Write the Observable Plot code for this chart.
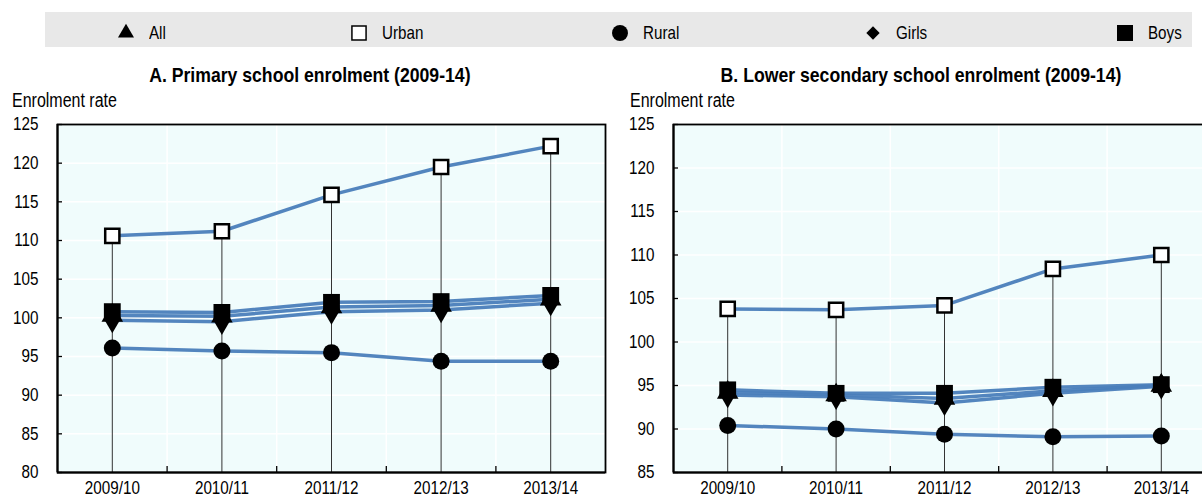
<!DOCTYPE html>
<html>
<head>
<meta charset="utf-8">
<script src="https://cdn.jsdelivr.net/npm/d3@7"></script>
<script src="https://cdn.jsdelivr.net/npm/@observablehq/plot@0.6"></script>
<style>
  html, body { margin: 0; padding: 0; }
  body { width: 1202px; height: 496px; overflow: hidden; background: #fff; position: relative;
         font-family: "Liberation Sans", Arial, sans-serif; color: #000; }
  .abs { position: absolute; }
  .nar { display: inline-block; transform: scaleX(0.82); white-space: nowrap; }
  #legend { left: 45px; top: 12px; width: 1147px; height: 35px; background: #e8e8e8; }
  .item { position: absolute; top: 3px; height: 35px; display: flex; align-items: center; font-size: 18.5px; }
  .item svg { margin-right: 14px; overflow: visible; }
  .item .nar { transform-origin: left center; }
  .title { font-weight: bold; font-size: 20.5px; text-align: center; top: 63px; }
  .title .nar { transform-origin: center center; transform: scaleX(0.86); }
  .ylab { font-size: 19.5px; top: 88.5px; }
  .ylab .nar { transform-origin: left center; }
  .panel { top: 110px; width: 612px; height: 400px; }
  .panel svg { max-width: none !important; }
</style>
</head>
<body>
<div id="legend" class="abs"></div>
<div class="abs title" style="left:0;width:620px"><span class="nar">A. Primary school enrolment (2009-14)</span></div>
<div class="abs title" style="left:620px;width:602px"><span class="nar">B. Lower secondary school enrolment (2009-14)</span></div>
<div class="abs ylab" style="left:12px"><span class="nar">Enrolment rate</span></div>
<div class="abs ylab" style="left:630px"><span class="nar">Enrolment rate</span></div>
<div id="pA" class="abs panel" style="left:0"></div>
<div id="pB" class="abs panel" style="left:612px"></div>
<script>
// ---- data ----
const years = ["2009/10", "2010/11", "2011/12", "2012/13", "2013/14"];
const seriesNames = ["All", "Urban", "Rural", "Girls", "Boys"];

const primaryAll   = [100.3, 100.2, 101.4, 101.6, 102.4];
const primaryUrban = [110.6, 111.2, 115.9, 119.5, 122.2];
const primaryRural = [96.1, 95.7, 95.5, 94.4, 94.4];
const primaryGirls = [99.7, 99.5, 100.8, 101.0, 101.9];
const primaryBoys  = [100.8, 100.7, 102.0, 102.1, 102.9];

const lowerAll   = [94.2, 93.9, 93.5, 94.4, 95.0];
const lowerUrban = [103.8, 103.7, 104.2, 108.4, 110.0];
const lowerRural = [90.4, 90.0, 89.4, 89.1, 89.2];
const lowerGirls = [93.9, 93.7, 93.0, 94.1, 94.9];
const lowerBoys  = [94.5, 94.1, 94.1, 94.8, 95.1];

const yTicksA = [80, 85, 90, 95, 100, 105, 110, 115, 120, 125];
const yTicksB = [85, 90, 95, 100, 105, 110, 115, 120, 125];

// ---- styles ----
const FONT = '"Liberation Sans", Arial, sans-serif';
const NARROW = 0.82;
const LINE = "#4a7ebb";
const markerStyle = {
  All:   {symbol: "triangle", fill: "#000", stroke: "none", r: 8},
  Urban: {symbol: "square",   fill: "#fff", stroke: "#000", r: 8, strokeWidth: 2.5},
  Rural: {symbol: "circle",   fill: "#000", stroke: "none", r: 8.5},
  Girls: {symbol: "diamond",  fill: "#000", stroke: "none", r: 8},
  Boys:  {symbol: "square",   fill: "#000", stroke: "none", r: 9.5}
};

// ---- legend ----
const legendPos = [81, 314, 575, 828, 1080];
const legendSize = {All: 111, Urban: 200, Rural: 200, Girls: 113, Boys: 256};
const legend = document.getElementById("legend");
const symMap = {triangle: d3.symbolTriangle, square: d3.symbolSquare, circle: d3.symbolCircle, diamond: d3.symbolDiamond2};
seriesNames.forEach((s, k) => {
  const st = markerStyle[s];
  const div = document.createElement("div");
  div.className = "item";
  div.style.left = (legendPos[k] - 9) + "px";
  const svg = d3.create("svg").attr("width", 18).attr("height", 18).attr("viewBox", "-9 -9 18 18");
  svg.append("path")
    .attr("d", d3.symbol(symMap[st.symbol], legendSize[s])())
    .attr("fill", st.fill)
    .attr("stroke", s === "Urban" ? "#000" : "none")
    .attr("stroke-width", 1.5);
  div.appendChild(svg.node());
  const span = document.createElement("span");
  span.className = "nar";
  span.textContent = s;
  div.appendChild(span);
  legend.appendChild(div);
});

// ---- panels ----
function panel(vals, yDomain, yTicks, width, mL, mR) {
  const data = seriesNames.flatMap((s, si) => vals[si].map((v, i) => ({series: s, i, v})));
  const tops = years.map((_, i) => ({i, v: d3.max(vals, a => a[i])}));
  const bounds = d3.range(1, years.length).map(k => k - 0.5);
  const idx = years.map((_, i) => i);
  const marks = [
    Plot.frame({fill: "#f0fcfc", stroke: null}),
    Plot.gridY(yTicks, {stroke: "#fff", strokeOpacity: 1, strokeWidth: 1.5}),
    Plot.gridX(bounds, {stroke: "#fff", strokeOpacity: 1, strokeWidth: 1.5}),
    Plot.ruleX(tops, {x: "i", y1: yDomain[0], y2: "v", stroke: "#333", strokeWidth: 1})
  ];
  seriesNames.forEach(s => {
    marks.push(Plot.line(data.filter(d => d.series === s), {x: "i", y: "v", stroke: LINE, strokeWidth: 3.5, strokeOpacity: 0.95}));
  });
  seriesNames.forEach(s => {
    const st = markerStyle[s];
    marks.push(Plot.dot(data.filter(d => d.series === s), {x: "i", y: "v", ...st}));
  });
  marks.push(
    Plot.frame({stroke: "#000", strokeWidth: 1.8}),
    Plot.ruleX([-0.5], {stroke: "#000", strokeWidth: 2}),
    Plot.ruleY([yDomain[0]], {stroke: "#000", strokeWidth: 2}),
    Plot.axisY(yTicks, {tickSize: 0, tickPadding: 19, label: null, fontSize: 18.6}),
    Plot.axisY(yTicks, {tickSize: -5, tickFormat: () => "", label: null, strokeWidth: 1.3}),
    Plot.axisX(idx, {tickSize: 0, tickPadding: 8, tickFormat: i => years[i], label: null, fontSize: 18.6}),
    Plot.axisX(bounds, {tickSize: -6, tickFormat: () => "", label: null, strokeWidth: 1.3})
  );
  const svg = Plot.plot({
    width, height: 400,
    marginLeft: mL, marginRight: mR, marginTop: 14, marginBottom: 38,
    style: {fontFamily: FONT, fontSize: "18.6px", color: "#000", background: "transparent", overflow: "visible"},
    x: {type: "linear", domain: [-0.5, years.length - 0.5], label: null},
    y: {domain: yDomain, label: null},
    marks
  });
  // condense text horizontally around its anchor (Arial Narrow look)
  d3.select(svg).selectAll("text").each(function () {
    const t = this.getAttribute("transform") || "";
    this.setAttribute("transform", (t + ` scale(${NARROW},1)`).trim());
  });
  return svg;
}

document.getElementById("pA").appendChild(
  panel([primaryAll, primaryUrban, primaryRural, primaryGirls, primaryBoys], [80, 125], yTicksA, 612, 57, 7)
);
document.getElementById("pB").appendChild(
  panel([lowerAll, lowerUrban, lowerRural, lowerGirls, lowerBoys], [85, 125], yTicksB, 612, 61, 9)
);
</script>
</body>
</html>
